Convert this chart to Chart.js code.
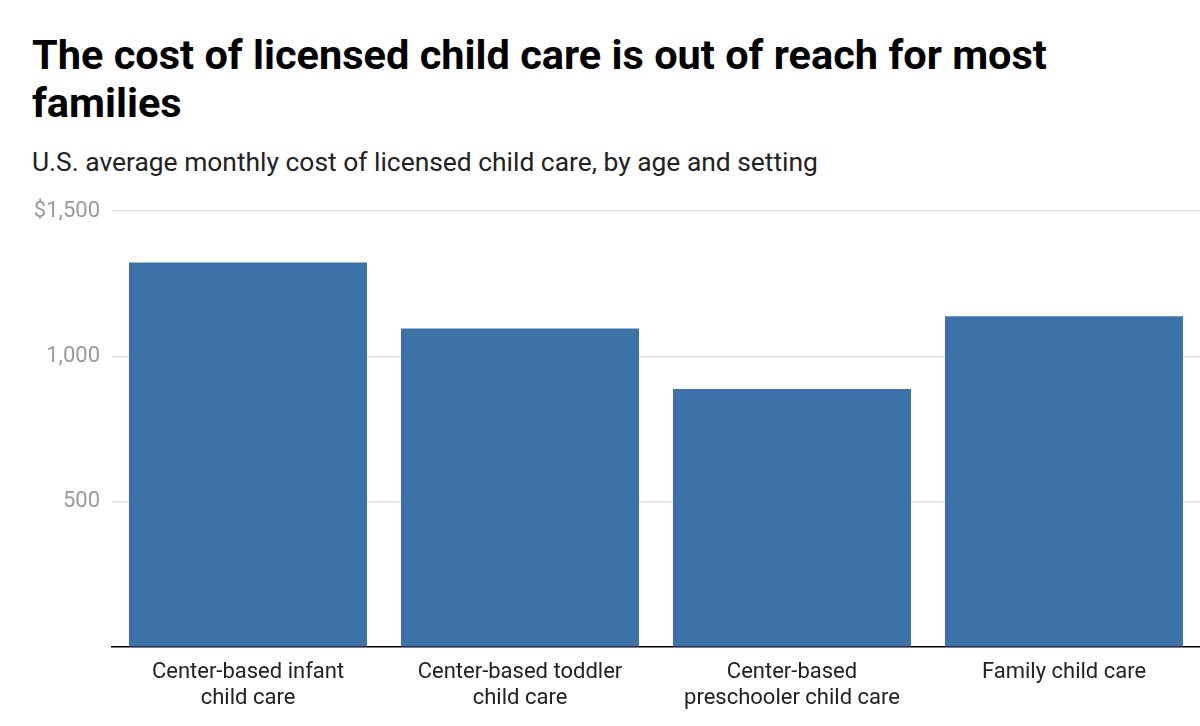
<!DOCTYPE html>
<html>
<head>
<meta charset="utf-8">
<script src="https://cdn.jsdelivr.net/npm/chart.js@4"></script>
<style>
  body { margin: 0; background: #fff; font-family: Roboto, sans-serif; }
  #wrap { position: relative; width: 1200px; height: 726px; overflow: hidden; }
  h1 { position: absolute; left: 32px; top: 31px; margin: 0; width: 1140px;
       font-size: 41.5px; line-height: 48px; font-weight: 700; color: #000; }
  .sub { position: absolute; left: 32px; top: 147px; margin: 0;
         font-size: 26.4px; color: #222; }
  #box { position: absolute; left: 0; top: 180px; width: 1200px; height: 546px; }
</style>
</head>
<body>
<div id="wrap">
  <h1>The cost of licensed child care is out of reach for most families</h1>
  <p class="sub">U.S. average monthly cost of licensed child care, by age and setting</p>
  <div id="box"><canvas id="costChart"></canvas></div>
</div>
<script>
// Chart data
const categories = [
    ['Center-based infant', 'child care'],
    ['Center-based toddler', 'child care'],
    ['Center-based', 'preschooler child care'],
    ['Family child care']
];
const monthlyCost = [1323, 1096, 888, 1138];
const yTicks = [0, 500, 1000, 1500];

const ctx = document.getElementById('costChart');
new Chart(ctx, {
    type: 'bar',
    data: {
        labels: categories,
        datasets: [{
            label: 'Average monthly cost',
            data: monthlyCost,
            backgroundColor: '#3d72a8',
            borderWidth: 0,
            categoryPercentage: 1,
            barPercentage: 0.875
        }]
    },
    options: {
        responsive: true,
        maintainAspectRatio: false,
        animation: false,
        layout: { padding: { top: 31, right: 0, bottom: 10, left: 0 } },
        plugins: {
            legend: { display: false },
            tooltip: { enabled: false }
        },
        scales: {
            x: {
                grid: { display: false },
                border: { color: '#000', width: 1.5 },
                ticks: {
                    color: '#222',
                    padding: 4,
                    maxRotation: 0,
                    font: { family: 'Roboto', size: 22, lineHeight: 1.2 }
                }
            },
            y: {
                min: 0,
                max: 1500,
                afterBuildTicks: axis => {
                    axis.ticks = yTicks.map(v => ({ value: v }));
                },
                afterFit: axis => { axis.width = 112; },
                border: { display: false },
                grid: {
                    drawTicks: false,
                    color: c => c.tick && c.tick.value === 0 ? 'rgba(0,0,0,0)' : '#e2e2e2',
                    lineWidth: 1.5
                },
                ticks: {
                    color: '#9a9a9a',
                    padding: 12,
                    font: { family: 'Roboto', size: 22 },
                    callback: function(value) {
                        if (value === 0) return '';
                        if (value === 1500) return '$1,500';
                        return value.toLocaleString('en-US');
                    }
                }
            }
        }
    }
});
</script>
</body>
</html>
